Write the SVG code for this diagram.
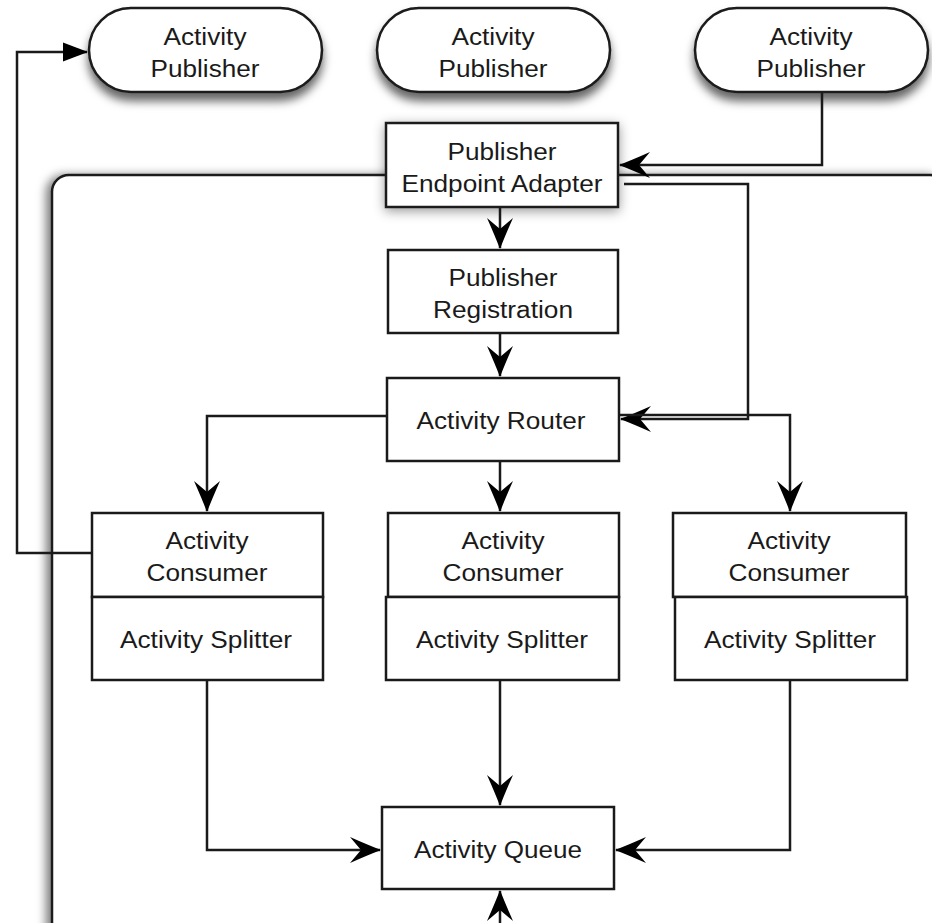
<svg xmlns="http://www.w3.org/2000/svg" width="932" height="923" viewBox="0 0 932 923">
<style>
.box{fill:#fff;stroke:#1a1a1a;stroke-width:2.5}
.pill{fill:#fff;stroke:#1a1a1a;stroke-width:2.5}
.ln{fill:none;stroke:#1a1a1a;stroke-width:2.5}
.t{font-family:"Liberation Sans",Arial,Helvetica,sans-serif;font-size:23px;fill:#1a1a1a;text-anchor:middle}
</style>
<defs>
<filter id="sh" x="-20%" y="-30%" width="140%" height="180%">
<feDropShadow dx="0" dy="8" stdDeviation="5" flood-color="#000" flood-opacity="0.6"/>
</filter>
<filter id="sh2" x="-20%" y="-30%" width="140%" height="160%">
<feDropShadow dx="0" dy="3" stdDeviation="6" flood-color="#000" flood-opacity="0.4"/>
</filter>
<filter id="shc" x="-5%" y="-5%" width="110%" height="110%">
<feDropShadow dx="-5" dy="1" stdDeviation="5" flood-color="#000" flood-opacity="0.5"/>
</filter>
<marker id="a" markerUnits="userSpaceOnUse" markerWidth="36" markerHeight="30" viewBox="-33 -15 36 30" refX="0" refY="0" orient="auto">
<path d="M1,0 Q-12,-5 -30,-13 L-19,0 L-30,13 Q-12,5 1,0 Z" fill="#000"/>
</marker>
<marker id="tri" markerUnits="userSpaceOnUse" markerWidth="28" markerHeight="22" viewBox="-26 -11 28 22" refX="0" refY="0" orient="auto">
<path d="M1,0 L-24,-9.5 L-24,9.5 Z" fill="#000"/>
</marker>
</defs>

<g id="publisher-left">
<rect class="pill" x="89" y="8" width="233" height="84" rx="42" ry="42" filter="url(#sh)"/>
<text class="t" x="205" y="45" textLength="83" lengthAdjust="spacingAndGlyphs">Activity</text>
<text class="t" x="205" y="77" textLength="109" lengthAdjust="spacingAndGlyphs">Publisher</text>
</g>
<g id="publisher-middle">
<rect class="pill" x="377" y="8" width="233" height="84" rx="42" ry="42" filter="url(#sh)"/>
<text class="t" x="493" y="45" textLength="83" lengthAdjust="spacingAndGlyphs">Activity</text>
<text class="t" x="493" y="77" textLength="109" lengthAdjust="spacingAndGlyphs">Publisher</text>
</g>
<g id="publisher-right">
<rect class="pill" x="695" y="8" width="233" height="84" rx="42" ry="42" filter="url(#sh)"/>
<text class="t" x="811" y="45" textLength="83" lengthAdjust="spacingAndGlyphs">Activity</text>
<text class="t" x="811" y="77" textLength="109" lengthAdjust="spacingAndGlyphs">Publisher</text>
</g>

<g id="container">
<rect class="box" x="52" y="175" width="895" height="800" rx="17" ry="17" filter="url(#shc)"/>
</g>

<g id="endpoint-adapter">
<rect class="box" x="386" y="123" width="232" height="84" filter="url(#sh2)"/>
<text class="t" x="502" y="160" textLength="109" lengthAdjust="spacingAndGlyphs">Publisher</text>
<text class="t" x="502" y="192" textLength="201" lengthAdjust="spacingAndGlyphs">Endpoint Adapter</text>
</g>
<g id="publisher-registration">
<rect class="box" x="388" y="250" width="230" height="83"/>
<text class="t" x="503" y="286" textLength="109" lengthAdjust="spacingAndGlyphs">Publisher</text>
<text class="t" x="503" y="318" textLength="140" lengthAdjust="spacingAndGlyphs">Registration</text>
</g>
<g id="activity-router">
<rect class="box" x="387" y="378" width="232" height="83"/>
<text class="t" x="501" y="429" textLength="169" lengthAdjust="spacingAndGlyphs">Activity Router</text>
</g>

<g id="consumer-left">
<rect class="box" x="92" y="513" width="231" height="84"/>
<text class="t" x="207" y="549" textLength="83" lengthAdjust="spacingAndGlyphs">Activity</text>
<text class="t" x="207" y="581" textLength="121" lengthAdjust="spacingAndGlyphs">Consumer</text>
</g>
<g id="splitter-left">
<rect class="box" x="92" y="597" width="231" height="83"/>
<text class="t" x="206" y="648" textLength="172" lengthAdjust="spacingAndGlyphs">Activity Splitter</text>
</g>
<g id="consumer-middle">
<rect class="box" x="388" y="513" width="231" height="84"/>
<text class="t" x="503" y="549" textLength="83" lengthAdjust="spacingAndGlyphs">Activity</text>
<text class="t" x="503" y="581" textLength="121" lengthAdjust="spacingAndGlyphs">Consumer</text>
</g>
<g id="splitter-middle">
<rect class="box" x="386" y="597" width="233" height="83"/>
<text class="t" x="502" y="648" textLength="172" lengthAdjust="spacingAndGlyphs">Activity Splitter</text>
</g>
<g id="consumer-right">
<rect class="box" x="673" y="513" width="233" height="84"/>
<text class="t" x="789" y="549" textLength="83" lengthAdjust="spacingAndGlyphs">Activity</text>
<text class="t" x="789" y="581" textLength="121" lengthAdjust="spacingAndGlyphs">Consumer</text>
</g>
<g id="splitter-right">
<rect class="box" x="675" y="597" width="232" height="83"/>
<text class="t" x="790" y="648" textLength="172" lengthAdjust="spacingAndGlyphs">Activity Splitter</text>
</g>
<g id="activity-queue">
<rect class="box" x="382" y="807" width="232" height="82"/>
<text class="t" x="498" y="858" textLength="168" lengthAdjust="spacingAndGlyphs">Activity Queue</text>
</g>

<g id="connectors">
<path class="ln" d="M92,553 H17 V52 H87" marker-end="url(#tri)"/>
<path class="ln" d="M822,92 V165 H620" marker-end="url(#a)"/>
<path class="ln" d="M624,184 H748 V419 H621" marker-end="url(#a)"/>
<path class="ln" d="M619,415 H790 V511" marker-end="url(#a)"/>
<path class="ln" d="M387,416 H207 V511" marker-end="url(#a)"/>
<path class="ln" d="M500,461 V511" marker-end="url(#a)"/>
<path class="ln" d="M500,207 V248" marker-end="url(#a)"/>
<path class="ln" d="M500,333 V376" marker-end="url(#a)"/>
<path class="ln" d="M500,680 V805" marker-end="url(#a)"/>
<path class="ln" d="M207,680 V850 H380" marker-end="url(#a)"/>
<path class="ln" d="M790,680 V850 H616" marker-end="url(#a)"/>
<path class="ln" d="M500,923 V891" marker-end="url(#a)"/>
</g>
</svg>
